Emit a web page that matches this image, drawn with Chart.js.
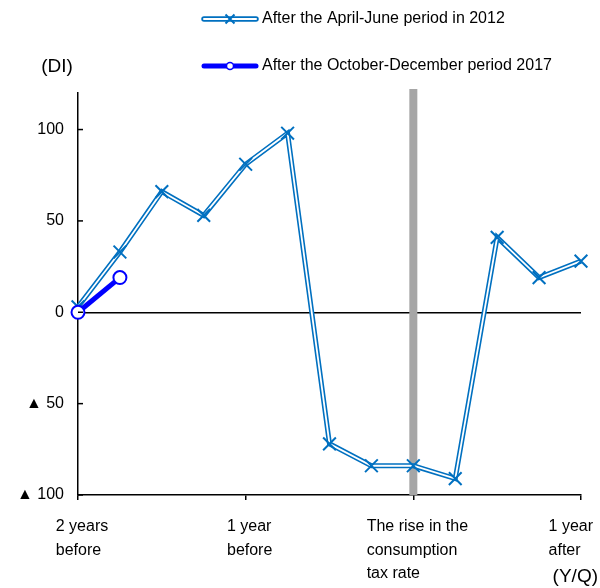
<!DOCTYPE html>
<html>
<head>
<meta charset="utf-8">
<script src="https://cdn.jsdelivr.net/npm/chart.js@4"></script>
<style>
  html, body { margin: 0; padding: 0; background: #fff; }
  canvas { display: block; }
</style>
</head>
<body>
<canvas id="chart" width="600" height="588"></canvas>
<script>
// Quarters counted from two years before the tax rise (0) to one year after (12)
const quarters = [0, 1, 2, 3, 4, 5, 6, 7, 8, 9, 10, 11, 12];
const after2012 = [3, 33, 66, 53, 81, 98, -72, -84, -84, -91, 41, 19, 28];
const after2017 = [0, 19];
const seriesNames = [
  'After the April-June period in 2012',
  'After the October-December period 2017'
];
const xTickPositions = [0, 4, 8, 12];
const xTickLabels = [
  ['2 years', 'before'],
  ['1 year', 'before'],
  ['The rise in the', 'consumption', 'tax rate'],
  ['1 year', 'after']
];
const yTickValues = [-100, -50, 0, 50, 100];
const taxRiseQuarter = 8;
const yUnit = '(DI)';
const xUnit = '(Y/Q)';

const FONT = '"Liberation Sans", Arial, sans-serif';
const BLUE_2012 = '#0070c0';
const BLUE_2017 = '#0000ff';

Chart.defaults.font.family = FONT;
Chart.defaults.font.size = 16;
Chart.defaults.color = '#000';

const toPoints = ys => ys.map((y, i) => ({ x: quarters[i], y }));

// Grey band marking the quarter of the tax rise
const taxBand = {
  id: 'taxBand',
  beforeDatasetsDraw(chart) {
    const { ctx, chartArea, scales } = chart;
    const x = scales.x.getPixelForValue(taxRiseQuarter);
    ctx.save();
    ctx.fillStyle = '#a6a6a6';
    ctx.fillRect(x - 4, chartArea.top - 4, 8, chartArea.bottom - chartArea.top + 4);
    ctx.restore();
  }
};

// Axis decorations, category captions, units and legend
const decorations = {
  id: 'decorations',
  afterDraw(chart) {
    const { ctx, chartArea, scales } = chart;
    ctx.save();

    // inward tick marks on the value axis
    ctx.strokeStyle = '#000';
    ctx.lineWidth = 1.5;
    yTickValues.forEach(v => {
      const y = scales.y.getPixelForValue(v);
      ctx.beginPath();
      ctx.moveTo(chartArea.left, y);
      ctx.lineTo(chartArea.left + 5, y);
      ctx.stroke();
    });

    // multi-line captions under the time axis
    ctx.fillStyle = '#000';
    ctx.font = '16px ' + FONT;
    ctx.textAlign = 'left';
    ctx.textBaseline = 'alphabetic';
    xTickLabels.forEach((lines, i) => {
      const x = scales.x.getPixelForValue(xTickPositions[i]);
      const w = Math.max(...lines.map(l => ctx.measureText(l).width));
      let left = x - w / 2 + 4;
      if (left + w > 593) left = 593 - w;
      lines.forEach((line, j) => ctx.fillText(line, left, 531 + j * 23.5));
    });

    // units
    ctx.font = '19px ' + FONT;
    ctx.textBaseline = 'middle';
    ctx.textAlign = 'center';
    ctx.fillText(yUnit, 57, 67);
    ctx.textAlign = 'right';
    ctx.fillText(xUnit, 598, 577);

    // legend
    ctx.font = '16px ' + FONT;
    const sx0 = 204, sx1 = 256, tx = 262;
    const rows = [19, 66];
    ctx.lineCap = 'round';
    // 2012: outlined double line with a cross
    let y = rows[0];
    ctx.strokeStyle = BLUE_2012;
    ctx.lineWidth = 5.5;
    ctx.beginPath(); ctx.moveTo(sx0, y); ctx.lineTo(sx1, y); ctx.stroke();
    ctx.strokeStyle = '#fff';
    ctx.lineWidth = 2;
    ctx.beginPath(); ctx.moveTo(sx0, y); ctx.lineTo(sx1, y); ctx.stroke();
    ctx.strokeStyle = BLUE_2012;
    ctx.lineWidth = 2;
    ctx.lineCap = 'butt';
    const cx = (sx0 + sx1) / 2, r = 4.5;
    ctx.beginPath();
    ctx.moveTo(cx - r, y - r); ctx.lineTo(cx + r, y + r);
    ctx.moveTo(cx + r, y - r); ctx.lineTo(cx - r, y + r);
    ctx.stroke();
    // 2017: bold line with an open circle
    y = rows[1];
    ctx.lineCap = 'round';
    ctx.strokeStyle = BLUE_2017;
    ctx.lineWidth = 5;
    ctx.beginPath(); ctx.moveTo(sx0, y); ctx.lineTo(sx1, y); ctx.stroke();
    ctx.fillStyle = '#fff';
    ctx.lineWidth = 1.5;
    ctx.beginPath(); ctx.arc(cx, y, 3.5, 0, Math.PI * 2); ctx.fill(); ctx.stroke();

    ctx.fillStyle = '#000';
    ctx.textAlign = 'left';
    ctx.textBaseline = 'middle';
    ctx.fillText(seriesNames[0], tx, rows[0]);
    ctx.fillText(seriesNames[1], tx, rows[1]);
    ctx.restore();
  }
};

new Chart(document.getElementById('chart'), {
  type: 'line',
  data: {
    datasets: [
      {
        label: seriesNames[1],
        data: toPoints(after2017),
        borderColor: BLUE_2017,
        borderWidth: 5,
        pointRadius: 6.5,
        pointBackgroundColor: '#fff',
        pointBorderColor: BLUE_2017,
        pointBorderWidth: 2,
        tension: 0,
        clip: false,
        order: 0
      },
      {
        label: seriesNames[0],
        data: toPoints(after2012),
        borderColor: '#fff',
        borderWidth: 1.8,
        pointStyle: 'crossRot',
        pointRadius: 9,
        pointBorderColor: BLUE_2012,
        pointBorderWidth: 2,
        tension: 0,
        clip: false,
        order: 1
      },
      {
        label: seriesNames[0],
        data: toPoints(after2012),
        borderColor: BLUE_2012,
        borderWidth: 5,
        pointRadius: 0,
        tension: 0,
        clip: false,
        order: 2
      }
    ]
  },
  options: {
    responsive: false,
    animation: false,
    layout: { padding: { top: 93, right: 19, left: 0, bottom: 0 } },
    plugins: {
      legend: { display: false },
      tooltip: { enabled: false }
    },
    scales: {
      x: {
        type: 'linear',
        min: 0,
        max: 12,
        afterBuildTicks: s => { s.ticks = xTickPositions.map(v => ({ value: v })); },
        afterFit: s => { s.height = 93; },
        ticks: { display: false },
        grid: {
          drawOnChartArea: false,
          drawTicks: true,
          tickLength: 5,
          color: '#000',
          lineWidth: 1.5
        },
        border: { display: true, color: '#000', width: 1.5 }
      },
      y: {
        min: -100,
        max: 120,
        afterBuildTicks: s => { s.ticks = yTickValues.map(v => ({ value: v })); },
        afterFit: s => { s.width = 78; },
        ticks: {
          padding: 14,
          color: '#000',
          font: { size: 16 },
          callback: v => (v < 0 ? '\u25B2 ' + Math.abs(v) : String(v))
        },
        grid: {
          drawTicks: false,
          lineWidth: 1.5,
          color: c => (c.tick && c.tick.value === 0 ? '#000' : 'rgba(0,0,0,0)')
        },
        border: { display: true, color: '#000', width: 1.5 }
      }
    }
  },
  plugins: [taxBand, decorations]
});
</script>
</body>
</html>
